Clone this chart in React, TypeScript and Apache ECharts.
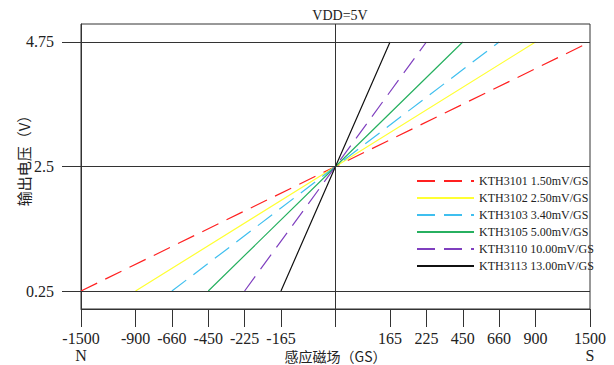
import React, { useEffect, useRef } from "react";
import * as echarts from "echarts";

// ---- data ----
const partNames = ["KTH3101", "KTH3102", "KTH3103", "KTH3105", "KTH3110", "KTH3113"];
const sensitivities = [1.5, 2.5, 3.4, 5.0, 10.0, 13.0]; // mV/GS
const fieldRanges = [1500, 900, 660, 450, 225, 165]; // GS where output hits 0.25 / 4.75 V
const fieldTicks = [-1500, -900, -660, -450, -225, -165, 0, 165, 225, 450, 660, 900, 1500];
// axis scale slots (the chart's field axis is piecewise, not linear)
const fieldSlots = [-7, -5.5, -4.5, -3.5, -2.5, -1.5, 0, 1.5, 2.5, 3.5, 4.5, 5.5, 7];
const voltageTicks = [0.25, 2.5, 4.75];
const vLow = 0.25;
const vMid = 2.5;
const vHigh = 4.75;

const colors = ["#ff2020", "#ffff33", "#3fbfef", "#27b060", "#7f3fbf", "#111111"];
const dashed = [true, false, true, false, true, false];

const fieldToSlot = (f: number) => {
  const i = fieldTicks.indexOf(f);
  return fieldSlots[i];
};
const slotToLabel = (s: number) => {
  const i = fieldSlots.findIndex((v) => Math.abs(v - s) < 1e-6);
  return i >= 0 ? String(fieldTicks[i]) : "";
};

const serif = "'Liberation Serif', 'DejaVu Serif', serif";
const cjk = "'Noto Sans CJK SC', sans-serif";

export default function App() {
  const ref = useRef<HTMLDivElement>(null);
  useEffect(() => {
    if (!ref.current) return;
    const chart = echarts.init(ref.current, null, { renderer: "svg" });
    const series: any[] = partNames.map((p, i) => ({
      name: `${p} ${sensitivities[i].toFixed(2)}mV/GS`,
      type: "line",
      symbol: "none",
      showSymbol: false,
      z: 3,
      lineStyle: {
        color: colors[i],
        width: 1.2,
        type: dashed[i] ? [18, 9] : "solid",
      },
      itemStyle: { color: colors[i] },
      data: [
        [fieldToSlot(-fieldRanges[i]), vLow],
        [0, vMid],
        [fieldToSlot(fieldRanges[i]), vHigh],
      ],
    }));
    series.push({
      name: "__grid",
      type: "line",
      data: [],
      silent: true,
      z: 1,
      markLine: {
        silent: true,
        symbol: "none",
        animation: false,
        label: { show: false },
        lineStyle: { color: "#333", width: 1, type: "solid" },
        data: [...voltageTicks.map((v) => ({ yAxis: v })), { xAxis: 0 }],
      },
    });
    chart.setOption({
      animation: false,
      backgroundColor: "#fff",
      title: {
        text: "VDD=5V",
        left: 335,
        textAlign: "center",
        top: 3,
        textStyle: { fontFamily: serif, fontSize: 14, fontWeight: "normal", color: "#222" },
      },
      grid: {
        left: 81,
        right: 24,
        top: 24,
        bottom: 56,
        show: true,
        borderColor: "#333",
        borderWidth: 1,
        containLabel: false,
        outerBoundsMode: "none",
      },
      legend: {
        orient: "vertical",
        left: 411,
        top: 170,
        itemWidth: 57,
        itemHeight: 12,
        itemGap: 5,
        data: series.slice(0, partNames.length).map((s) => s.name),
        itemStyle: { opacity: 0 },
        textStyle: { fontFamily: serif, fontSize: 12, color: "#222" },
        selectedMode: false,
      },
      xAxis: {
        type: "value",
        min: fieldSlots[0],
        max: fieldSlots[fieldSlots.length - 1],
        name: "感应磁场（GS）",
        nameLocation: "middle",
        nameGap: 40,
        nameMoveOverlap: false,
        nameTextStyle: { fontFamily: cjk, fontSize: 14, lineHeight: 14, color: "#222" },
        axisLine: { show: true, onZero: false, lineStyle: { color: "#333" } },
        axisTick: {
          show: true,
          customValues: fieldSlots,
          length: 18,
          lineStyle: { color: "#333" },
        },
        axisLabel: {
          customValues: fieldSlots.filter((s) => s !== 0),
          margin: 21,
          fontFamily: serif,
          fontSize: 16,
          color: "#222",
          lineHeight: 17,
          formatter: (v: number) => {
            const l = slotToLabel(v);
            if (v === fieldSlots[0]) return l + "\nN";
            if (v === fieldSlots[fieldSlots.length - 1]) return l + "\nS";
            return l;
          },
        },
        splitLine: { show: false },
      },
      yAxis: {
        type: "value",
        min: -0.075,
        max: 5.075,
        nameMoveOverlap: false,
        axisLine: { show: true, onZero: false, lineStyle: { color: "#333" } },
        axisTick: {
          show: true,
          customValues: voltageTicks,
          length: 19,
          lineStyle: { color: "#333" },
        },
        axisLabel: {
          customValues: voltageTicks,
          margin: 27,
          fontFamily: serif,
          fontSize: 16,
          color: "#222",
        },
        splitLine: { show: false },
      },
      graphic: [
        {
          type: "text",
          x: 23,
          y: 157,
          rotation: Math.PI / 2,
          style: {
            text: "输出电压（V）",
            fontFamily: cjk,
            fontSize: 15,
            fill: "#222",
            align: "center",
            verticalAlign: "middle",
          },
        },
      ],
      series,
    });
    return () => chart.dispose();
  }, []);
  return (
    <div
      ref={ref}
      style={{ position: "fixed", left: 0, top: 0, width: 614, height: 365, background: "#fff" }}
    />
  );
}
